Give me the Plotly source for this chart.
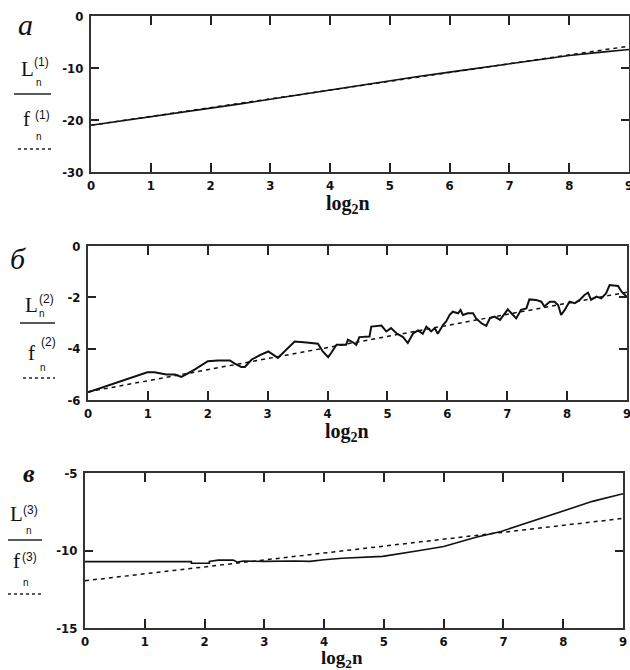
import plotly.graph_objects as go

W, H = 630, 670

# ---------------- data ----------------
x_a = [0, 0.5, 1, 1.5, 2, 2.5, 3, 3.5, 4, 4.5, 5, 5.5, 6, 6.5, 7, 7.5, 8, 8.5, 9]
L1 = [-21.0, -20.2, -19.4, -18.6, -17.8, -16.9, -16.0, -15.1, -14.3, -13.3,
      -12.4, -11.6, -10.8, -10.0, -9.15, -8.4, -7.6, -7.0, -6.45]
x_f1 = [0, 9]
f1 = [-21.0, -5.8]

x_b = [0, 0.25, 0.5, 0.75, 0.99, 1.11, 1.31, 1.45, 1.56, 1.78, 2.0, 2.17, 2.37, 2.45,
       2.56, 2.62, 2.73, 2.87, 3.01, 3.17, 3.31, 3.45, 3.65, 3.84, 3.92, 4.01, 4.06,
       4.15, 4.31, 4.34, 4.43, 4.48, 4.53, 4.70, 4.73, 4.90, 4.98, 5.06, 5.15, 5.26,
       5.34, 5.43, 5.51, 5.59, 5.65, 5.73, 5.79, 5.84, 5.93, 5.98, 6.04, 6.09, 6.18,
       6.22, 6.26, 6.34, 6.43, 6.48, 6.57, 6.65, 6.71, 6.79, 6.88, 6.96, 7.01, 7.07,
       7.15, 7.23, 7.32, 7.37, 7.48, 7.57, 7.62, 7.71, 7.79, 7.85, 7.90, 7.96, 8.04,
       8.13, 8.21, 8.29, 8.35, 8.40, 8.49, 8.57, 8.65, 8.71, 8.85, 8.91, 8.99]
L2 = [-5.70, -5.50, -5.33, -5.12, -4.92, -4.92, -5.01, -5.01, -5.10, -4.82, -4.49, -4.46,
      -4.46, -4.58, -4.71, -4.71, -4.43, -4.25, -4.11, -4.36, -4.04, -3.72, -3.76, -3.81,
      -4.11, -4.33, -4.17, -3.85, -3.85, -3.65, -3.76, -3.85, -3.55, -3.53, -3.14, -3.10,
      -3.33, -3.20, -3.40, -3.55, -3.78, -3.40, -3.29, -3.42, -3.14, -3.33, -3.20, -3.42,
      -3.07, -2.94, -2.68, -2.56, -2.62, -2.49, -2.69, -2.62, -2.62, -2.82, -3.01, -3.11,
      -2.82, -2.75, -2.88, -2.62, -2.47, -2.62, -2.82, -2.49, -2.43, -2.08, -2.10, -2.17,
      -2.36, -2.17, -2.17, -2.30, -2.69, -2.49, -2.17, -2.23, -2.10, -1.91, -1.82, -2.10,
      -1.97, -2.04, -1.85, -1.52, -1.56, -1.78, -1.97]
x_f2 = [0, 9]
f2 = [-5.68, -1.8]

x_c = [0, 1.78, 1.78, 2.08, 2.08, 2.23, 2.48, 2.55, 2.65, 3.0, 3.5, 3.76, 4.0, 4.3,
       4.98, 5.3, 5.6, 6.0, 6.54, 6.96, 7.3, 7.66, 8.0, 8.49, 9.0]
L3 = [-10.72, -10.72, -10.82, -10.82, -10.70, -10.62, -10.62, -10.75, -10.68, -10.70,
      -10.68, -10.70, -10.60, -10.50, -10.38, -10.20, -10.00, -9.74, -9.15, -8.77,
      -8.35, -7.90, -7.48, -6.83, -6.34]
x_f3 = [0, 9]
f3 = [-11.95, -7.93]

x_ticks = [0, 1, 2, 3, 4, 5, 6, 7, 8, 9]
x_ticktext = ["0", "1", "2", "3", "4", "5", "6", "7", "8", "9"]
ya_ticks = [0, -10, -20, -30]
ya_text = ["0", "-10", "-20", "-30"]
yb_ticks = [0, -2, -4, -6]
yb_text = ["0", "-2", "-4", "-6"]
yc_ticks = [-5, -10, -15]
yc_text = ["-5", "-10", "-15"]

panel_letters = ["а", "б", "в"]
sup_labels = ["(1)", "(2)", "(3)"]

# ---------------- figure ----------------
def px(x):
    return x / W

def py(y):
    return 1 - y / H

fig = go.Figure()
solid = dict(color="#111111", width=1.6)
dashed = dict(color="#111111", width=1.5, dash="4px,4px")

fig.add_trace(go.Scatter(x=x_a, y=L1, mode="lines", line=solid, xaxis="x", yaxis="y"))
fig.add_trace(go.Scatter(x=x_f1, y=f1, mode="lines", line=dashed, xaxis="x", yaxis="y"))
fig.add_trace(go.Scatter(x=x_b, y=L2, mode="lines", line=dict(color="#111111", width=2),
                         xaxis="x2", yaxis="y2"))
fig.add_trace(go.Scatter(x=x_f2, y=f2, mode="lines", line=dashed, xaxis="x2", yaxis="y2"))
fig.add_trace(go.Scatter(x=x_c, y=L3, mode="lines", line=solid, xaxis="x3", yaxis="y3"))
fig.add_trace(go.Scatter(x=x_f3, y=f3, mode="lines", line=dashed, xaxis="x3", yaxis="y3"))

tickfont = dict(family="Liberation Sans Narrow, DejaVu Sans Condensed, Arial Narrow, sans-serif",
                size=13, color="#111111", weight="bold")

def xax(domain, anchor):
    return dict(domain=domain, anchor=anchor, range=[0, 9], tickvals=x_ticks,
                ticktext=x_ticktext, ticks="inside", ticklen=9, tickwidth=1.5,
                tickcolor="#222", showline=True, linecolor="#333", linewidth=2,
                mirror="ticks", showgrid=False, zeroline=False, tickfont=tickfont,
                automargin=False, ticklabeloverflow="allow")

def yax(domain, anchor, rng, tv, tt):
    return dict(domain=domain, anchor=anchor, range=rng, tickvals=tv, ticktext=tt,
                ticks="inside", ticklen=8, tickwidth=1.5, tickcolor="#222",
                showline=True, linecolor="#333", linewidth=2, mirror="ticks",
                showgrid=False, zeroline=False, tickfont=tickfont, ticklabelstandoff=3,
                automargin=False)

fig.update_layout(
    width=W, height=H, margin=dict(l=0, r=0, t=0, b=0, autoexpand=False),
    paper_bgcolor="white", plot_bgcolor="white", showlegend=False,
    xaxis=xax([px(91), px(629)], "y"),
    yaxis=yax([py(172), py(16)], "x", [-30, 0], ya_ticks, ya_text),
    xaxis2=xax([px(88), px(627)], "y2"),
    yaxis2=yax([py(400), py(246)], "x2", [-6, 0], yb_ticks, yb_text),
    xaxis3=xax([px(85), px(623)], "y3"),
    yaxis3=yax([py(628), py(473)], "x3", [-15, -5], yc_ticks, yc_text),
)

serif = "Liberation Serif, Times New Roman, serif"
sans = "Liberation Sans, Arial, sans-serif"
annotations = []
shapes = []

def ann(text, x, y, size, family, **kw):
    annotations.append(dict(text=text, x=px(x), y=py(y), xref="paper", yref="paper",
                            xanchor="center", yanchor="middle", showarrow=False,
                            font=dict(size=size, family=family, color="#111111", **kw)))

def hline(x0, x1, y, dash=None):
    shapes.append(dict(type="line", xref="paper", yref="paper", x0=px(x0), x1=px(x1),
                       y0=py(y), y1=py(y),
                       line=dict(color="#222", width=1.3, dash=dash if dash else "solid")))

# axis titles
for xc, yc, sz in [(348, 204, 20), (347, 432, 20), (342, 659, 19)]:
    ann("log<sub>2</sub>n", xc, yc, sz, serif, weight="bold")

# panel a labels
ann(panel_letters[0], 25, 25, 30, serif, style="italic")
ann("L", 27, 69, 21, serif)
ann(sup_labels[0], 41.5, 62, 12, sans)
ann("n", 38.5, 82, 10, sans)
hline(14, 51, 94)
ann("f", 26.5, 119, 21, serif)
ann(sup_labels[0], 42.5, 115, 12, sans)
ann("n", 39, 136, 10, sans)
hline(18, 51, 149, "3px,3px")

# panel b labels
ann(panel_letters[1], 17.5, 259, 30, serif, style="italic")
ann("L", 31.7, 305, 21, serif)
ann(sup_labels[1], 46.5, 299, 12, sans)
ann("n", 42, 313, 10, sans)
hline(20, 55, 323)
ann("f", 31, 353, 21, serif)
ann(sup_labels[1], 48.5, 342, 12, sans)
ann("n", 42.5, 367, 10, sans)
hline(23, 55, 378, "3px,3px")

# panel c labels
ann(panel_letters[2], 28.5, 473, 26, serif, style="italic", weight="bold")
ann("L", 16.5, 514, 21, serif)
ann(sup_labels[2], 30, 510, 12, sans)
ann("n", 28.5, 530, 10, sans)
hline(8, 42, 540)
ann("f", 16.5, 561, 21, serif)
ann(sup_labels[2], 29.5, 557, 12, sans)
ann("n", 26, 582, 10, sans)
hline(8, 42, 594, "3px,3px")

fig.update_layout(annotations=annotations, shapes=shapes)
fig.write_html("out.html", config={"displayModeBar": False},
               post_script="document.body.style.margin='0px';document.body.style.overflow='hidden';")
